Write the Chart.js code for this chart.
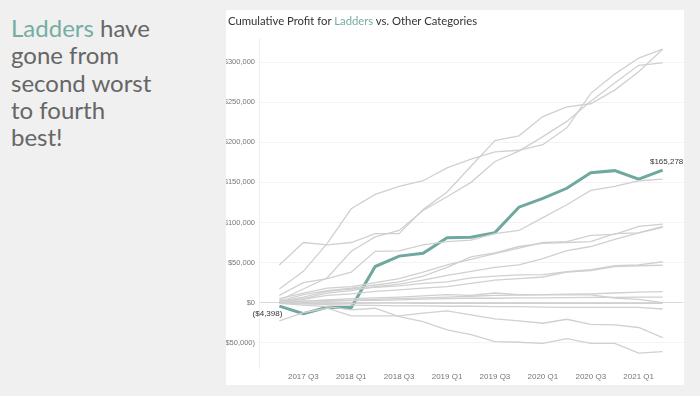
<!DOCTYPE html>
<html>
<head>
<meta charset="utf-8">
<script src="https://cdn.jsdelivr.net/npm/chart.js@4.4.0/dist/chart.umd.min.js"></script>
<style>
  body { margin: 0; width: 700px; height: 396px; background: #f0f0f0; position: relative; overflow: hidden; }
  #story { position: absolute; left: 11px; top: 14px; font-family: Lato, sans-serif; font-size: 24px; line-height: 27.3px; color: #666; }
  #panel { position: absolute; left: 226px; top: 10px; width: 458px; height: 375px; background: #fff; }
  #title { position: absolute; left: 2px; top: 4px; font-family: Lato, sans-serif; font-size: 11.3px; color: #333; white-space: nowrap; }
  .teal { color: #76ada3; }
  #wrap { position: absolute; left: 0; top: 0; width: 458px; height: 375px; }
</style>
</head>
<body>
<div id="story"><span class="teal">Ladders</span> have<br>gone from<br>second worst<br>to fourth<br>best!</div>
<div id="panel">
  <div id="wrap"><canvas id="profitChart"></canvas></div>
  <div id="title">Cumulative Profit for <span class="teal">Ladders</span> vs. Other Categories</div>
</div>
<script>
// Trimestres, 2017 Q2 a 2021 Q2
var quarters = ['2017 Q2','2017 Q3','2017 Q4','2018 Q1','2018 Q2','2018 Q3','2018 Q4','2019 Q1','2019 Q2',
                '2019 Q3','2019 Q4','2020 Q1','2020 Q2','2020 Q3','2020 Q4','2021 Q1','2021 Q2'];
var xTickLabels = ['2017 Q3','2018 Q1','2018 Q3','2019 Q1','2019 Q3','2020 Q1','2020 Q3','2021 Q1'];
var yTicks = [-50000, 0, 50000, 100000, 150000, 200000, 250000, 300000];

var ladders = [-4398, -13700, -5700, -6200, 45000, 58000, 61600, 81000, 81500, 87300, 119000, 130000, 142600, 162000, 164600, 153900, 165278];

// Otras categorías (gris)
var catA = [17000, 39000, 74000, 117000, 135000, 145000, 152000, 168000, 179000, 188000, 190000, 197000, 218000, 261000, 285000, 305000, 316000];
var catB = [47000, 75000, 72000, 75000, 86000, 86000, 116000, 138000, 170000, 202000, 208000, 232000, 244000, 248000, 265000, 288000, 316000];
var catC = [3000, 17000, 31000, 64000, 82000, 90000, 115000, 132000, 150000, 176000, 189000, 207000, 226000, 251000, 274000, 296000, 299000];
var catD = [9000, 25000, 30000, 38000, 64000, 64500, 72000, 76000, 78000, 86000, 90000, 106000, 122000, 140000, 145000, 152000, 154000];
var catE = [5000, 12000, 18000, 20000, 25000, 30000, 38000, 47000, 54000, 61000, 68000, 75000, 76000, 84000, 85000, 95000, 98000];
var catF = [2000, 10000, 15000, 18000, 22000, 26000, 33000, 44000, 57000, 62000, 70000, 74000, 75000, 76000, 86000, 87000, 95000];
var catG = [1000, 5000, 12000, 15000, 20000, 23000, 28000, 34000, 39000, 44000, 47000, 55000, 65000, 70000, 79000, 87000, 94000];
var catH = [1500, 7000, 14000, 17000, 19000, 21000, 24000, 26000, 31000, 33000, 34500, 35000, 38500, 41000, 46000, 47000, 51000];
var catI = [500, 4000, 9000, 11000, 14000, 16000, 18000, 20000, 24000, 28000, 30000, 32000, 38000, 40000, 45000, 46000, 46600];
var catJ = [0, 2000, 3500, 5000, 6000, 7000, 8500, 10000, 9000, 12000, 10000, 10000, 10500, 11000, 12000, 13000, 13700];
var catK = [-1000, 0, 1500, 2500, 3000, 3500, 4500, 5000, 5500, 5500, 6000, 6000, 6200, 6500, 6600, 6800, 7000];
var catL = [1000, 2000, 3000, 3000, 4000, 5000, 6000, 7000, 8000, 9000, 9500, 9600, 9600, 9600, 5800, 4000, 0];
var catM = [-500, -1000, -1000, -800, -500, -500, -1000, -800, -800, -800, -800, -800, -800, -800, -800, -800, -800];
var catN = [0, -1500, -2500, -3000, -3500, -4000, -4000, -4500, -4500, -5000, -5000, -5500, -5800, -5800, -5800, -5800, -7900];
var catO = [-22800, -12500, -7000, -16600, -16600, -16600, -13000, -10300, -15300, -20300, -22800, -25700, -20700, -27000, -27800, -31000, -43600];
var catP = [-1000, -3000, -5000, -9000, -7000, -17400, -23700, -34000, -40000, -48600, -49400, -50700, -45000, -50700, -50700, -63000, -61000];

var others = [catA, catB, catC, catD, catE, catF, catG, catH, catI, catJ, catK, catL, catM, catN, catO, catP];

function toPoints(arr) {
    return arr.map(function(v, i) { return { x: i, y: v }; });
}

function money(v) {
    var s = '$' + Math.abs(v).toLocaleString('en-US');
    return v < 0 ? '(' + s + ')' : s;
}

var datasets = others.map(function(arr) {
    return { data: toPoints(arr), borderColor: '#d0d0d0', borderWidth: 1.3, pointRadius: 0, tension: 0 };
});
datasets.push({ data: toPoints(ladders), borderColor: '#6fa89e', borderWidth: 3, pointRadius: 0, tension: 0 });

// Etiquetas de inicio y fin de Ladders
var endLabels = {
    id: 'endLabels',
    afterDatasetsDraw: function(chart) {
        var ctx = chart.ctx, xs = chart.scales.x, ys = chart.scales.y;
        var last = ladders.length - 1;
        ctx.save();
        ctx.font = '8px Arial';
        ctx.fillStyle = '#333';
        ctx.textAlign = 'center';
        ctx.textBaseline = 'bottom';
        ctx.fillText(money(ladders[last]), xs.getPixelForValue(last) + 4, ys.getPixelForValue(ladders[last]) - 4);
        ctx.textAlign = 'right';
        ctx.textBaseline = 'top';
        ctx.fillText(money(ladders[0]), xs.getPixelForValue(0) + 3, ys.getPixelForValue(ladders[0]) + 4);
        ctx.restore();
    }
};

var ctx = document.getElementById('profitChart').getContext('2d');
var profitChart = new Chart(ctx, {
    type: 'line',
    data: { datasets: datasets },
    plugins: [endLabels],
    options: {
        responsive: true,
        maintainAspectRatio: false,
        animation: false,
        layout: { padding: { top: 28, right: 1, left: 0, bottom: 0 } },
        plugins: { legend: { display: false }, tooltip: { enabled: false } },
        scales: {
            x: {
                type: 'linear',
                min: -0.85,
                max: 16.85,
                afterBuildTicks: function(scale) {
                    scale.ticks = xTickLabels.map(function(l) { return { value: quarters.indexOf(l) }; });
                },
                afterFit: function(scale) { scale.height = 17; },
                ticks: {
                    autoSkip: false,
                    maxRotation: 0,
                    padding: 4,
                    color: '#777',
                    font: { size: 8, family: 'Arial' },
                    callback: function(v) { return quarters[v]; }
                },
                grid: { display: false, drawTicks: false },
                border: { display: false }
            },
            y: {
                min: -81500,
                max: 330000,
                afterBuildTicks: function(scale) {
                    scale.ticks = yTicks.map(function(v) { return { value: v }; });
                },
                afterFit: function(scale) { scale.width = 33; },
                ticks: {
                    padding: 4,
                    color: '#777',
                    font: { size: 7.5, family: 'Arial' },
                    callback: function(v) { return money(v); }
                },
                grid: {
                    drawTicks: false,
                    color: function(c) { return c.tick && c.tick.value === 0 ? '#d8d8d8' : '#f3f3f3'; }
                },
                border: { color: '#efefef' }
            }
        }
    }
});
</script>
</body>
</html>
